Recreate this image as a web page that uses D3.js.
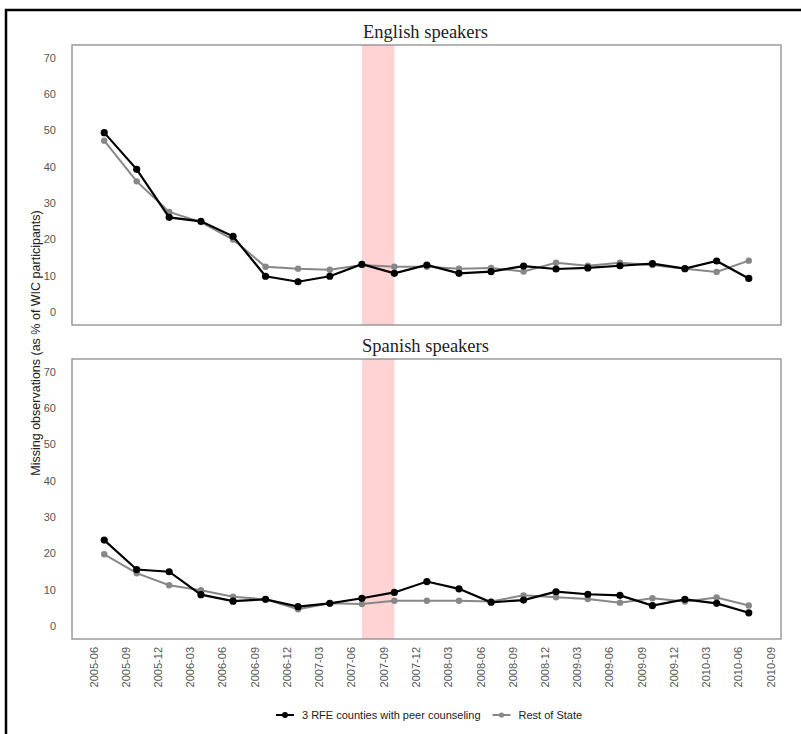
<!DOCTYPE html>
<html>
<head>
<meta charset="utf-8">
<script src="https://cdn.jsdelivr.net/npm/d3@7"></script>
<style>
  body { margin: 0; background: #fff; }
  svg { display: block; }
</style>
</head>
<body>
<svg id="chart" width="801" height="734"></svg>
<script>
// quarters of the observations (one point per quarter)
const periods = ['2005-07', '2005-10', '2006-01', '2006-04', '2006-07', '2006-10', '2007-01',
  '2007-04', '2007-07', '2007-10', '2008-01', '2008-04', '2008-07', '2008-10', '2009-01',
  '2009-04', '2009-07', '2009-10', '2010-01', '2010-04', '2010-07'];

const tickLabels = ['2005-06', '2005-09', '2005-12', '2006-03', '2006-06', '2006-09', '2006-12',
  '2007-03', '2007-06', '2007-09', '2007-12', '2008-03', '2008-06', '2008-09', '2008-12',
  '2009-03', '2009-06', '2009-09', '2009-12', '2010-03', '2010-06', '2010-09'];

const yTicks = [0, 10, 20, 30, 40, 50, 60, 70];

// shaded period
const highlight = ['2007-07', '2007-10'];

const seriesNames = ['3 RFE counties with peer counseling', 'Rest of State'];

// English speakers
const englishRfe = [49.4, 39.3, 26.1, 25.0, 20.9, 9.9, 8.4, 9.9, 13.2, 10.7, 13.0,
  10.7, 11.2, 12.7, 11.9, 12.2, 12.8, 13.4, 12.0, 14.1, 9.3];
const englishRest = [47.2, 36.0, 27.6, 24.8, 20.0, 12.5, 12.0, 11.7, 13.0, 12.5, 12.5,
  12.0, 12.2, 11.2, 13.6, 12.8, 13.6, 13.0, 12.0, 11.1, 14.2];

// Spanish speakers
const spanishRfe = [23.7, 15.6, 15.0, 8.7, 6.9, 7.4, 5.4, 6.3, 7.7, 9.3, 12.3,
  10.3, 6.6, 7.2, 9.5, 8.8, 8.5, 5.7, 7.4, 6.3, 3.7];
const spanishRest = [19.8, 14.6, 11.3, 9.9, 8.1, 7.4, 4.7, 6.3, 6.1, 7.0, 7.0,
  7.0, 6.8, 8.5, 8.0, 7.5, 6.5, 7.7, 6.8, 7.9, 5.7];

const parseMonth = d3.timeParse('%Y-%m');
const dates = periods.map(parseMonth);

const svg = d3.select('#chart');

const left = 72, right = 781, panelH = 280;
const panelTops = [45, 359];

// x domain: data range plus 5% on each side
const ext = d3.extent(dates);
const pad = (ext[1] - ext[0]) * 0.05;
const x = d3.scaleTime()
  .domain([new Date(+ext[0] - pad), new Date(+ext[1] + pad)])
  .range([left, right]);

const colors = ['#000000', '#878787'];

// outer frame (cropped on the right and bottom)
svg.append('rect')
  .attr('x', 6).attr('y', 10)
  .attr('width', 820).attr('height', 760)
  .attr('fill', 'none')
  .attr('stroke', '#000')
  .attr('stroke-width', 2.5);

function drawPanel(top, title, rfe, rest, showX) {
  const y = d3.scaleLinear()
    .domain([-3.5, 73.5])
    .range([top + panelH, top]);

  const g = svg.append('g');

  // shaded period
  g.append('rect')
    .attr('x', x(parseMonth(highlight[0])))
    .attr('y', top)
    .attr('width', x(parseMonth(highlight[1])) - x(parseMonth(highlight[0])))
    .attr('height', panelH)
    .attr('fill', '#ffd3d3');

  // border
  g.append('rect')
    .attr('x', left).attr('y', top)
    .attr('width', right - left).attr('height', panelH)
    .attr('fill', 'none')
    .attr('stroke', '#8c8c8c')
    .attr('stroke-width', 1.3);

  // title
  g.append('text')
    .attr('x', (left + right) / 2 - 1)
    .attr('y', top - 7)
    .attr('text-anchor', 'middle')
    .attr('font-family', '"Liberation Serif", "DejaVu Serif", serif')
    .attr('font-size', '18.5px')
    .attr('fill', '#222')
    .text(title);

  // y tick labels
  g.append('g')
    .selectAll('text')
    .data(yTicks)
    .enter()
    .append('text')
    .attr('x', 56)
    .attr('y', d => y(d))
    .attr('dy', '0.35em')
    .attr('text-anchor', 'end')
    .attr('font-family', '"Liberation Sans", Arial, sans-serif')
    .attr('font-size', '11px')
    .attr('fill', '#555')
    .text(d => d);

  const line = d3.line()
    .x((d, i) => x(dates[i]))
    .y(d => y(d));

  [rest, rfe].forEach((vals, k) => {
    const c = k === 0 ? colors[1] : colors[0];
    const s = g.append('g');
    s.append('path')
      .datum(vals)
      .attr('d', line)
      .attr('fill', 'none')
      .attr('stroke', c)
      .attr('stroke-width', k === 0 ? 2 : 2.2);
    s.selectAll('circle')
      .data(vals)
      .enter()
      .append('circle')
      .attr('cx', (d, i) => x(dates[i]))
      .attr('cy', d => y(d))
      .attr('r', k === 0 ? 3.2 : 3.6)
      .attr('fill', c);
  });

  if (showX) {
    g.append('g')
      .selectAll('text')
      .data(tickLabels)
      .enter()
      .append('text')
      .attr('transform', d => `translate(${x(parseMonth(d)) + 4},${top + panelH + 8}) rotate(-90)`)
      .attr('text-anchor', 'end')
      .attr('font-family', '"Liberation Sans", Arial, sans-serif')
      .attr('font-size', '11px')
      .attr('fill', '#555')
      .text(d => d);
  }
}

drawPanel(panelTops[0], 'English speakers', englishRfe, englishRest, false);
drawPanel(panelTops[1], 'Spanish speakers', spanishRfe, spanishRest, true);

// y axis title
svg.append('text')
  .attr('transform', 'translate(40,343) rotate(-90)')
  .attr('text-anchor', 'middle')
  .attr('font-family', '"Liberation Sans", Arial, sans-serif')
  .attr('font-size', '12.5px')
  .attr('fill', '#222')
  .text('Missing observations (as % of WIC participants)');

// legend
const legend = svg.append('g').attr('transform', 'translate(0,715)');
let lx = 276;
seriesNames.forEach((name, k) => {
  const item = legend.append('g').attr('transform', `translate(${lx},0)`);
  item.append('line')
    .attr('x1', 0).attr('x2', 18)
    .attr('stroke', colors[k])
    .attr('stroke-width', 2);
  item.append('circle')
    .attr('cx', 9).attr('r', k === 0 ? 3 : 2.6)
    .attr('fill', colors[k]);
  const t = item.append('text')
    .attr('x', 26)
    .attr('dy', '0.35em')
    .attr('font-family', '"Liberation Sans", Arial, sans-serif')
    .attr('font-size', '11px')
    .attr('fill', '#222')
    .text(name);
  lx += 26 + t.node().getComputedTextLength() + 12;
});
</script>
</body>
</html>
